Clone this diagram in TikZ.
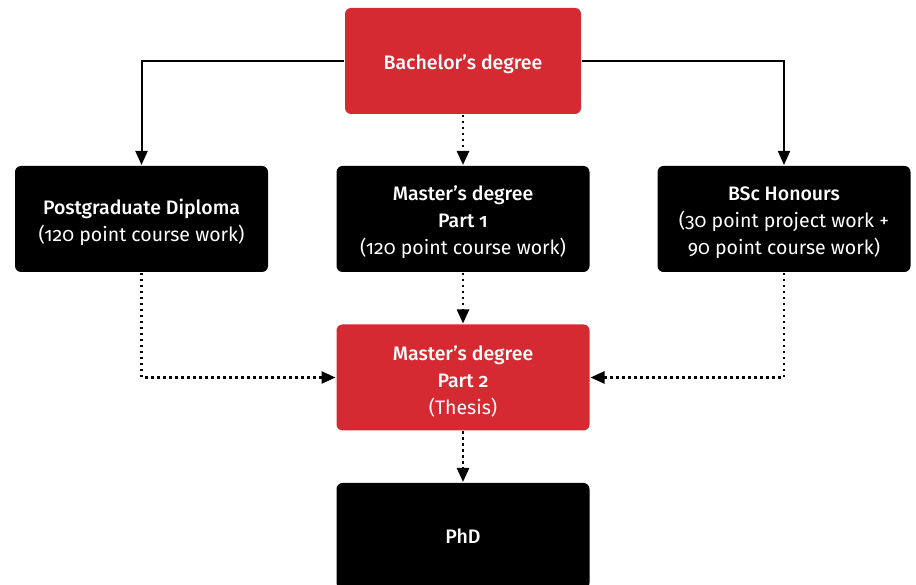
\documentclass[tikz,border=0pt]{standalone}
\usepackage{fontspec}
\setmainfont{Fira Sans}[Numbers=OldStyle, BoldFont={* Medium}]
\usepackage{tikz}
\usetikzlibrary{arrows.meta}

\definecolor{unired}{RGB}{214,42,50}
\newcommand{\topgap}{\rule{0pt}{22pt}}

\begin{document}
\begin{tikzpicture}[
        x = 1pt, y = 1pt,
        line width = 2pt % line style
    ]
    \tikzstyle{red box}=[
        draw = none,
        fill = unired,
        text = white,
        rounded corners = 6pt,
        align = center,
        font = \fontsize{19.5}{27}\selectfont,
        minimum height = 106pt
    ]

    \tikzstyle{black box}=[
        draw = none,
        fill = black,
        text = white,
        rounded corners = 6pt,
        align = center,
        font = \fontsize{19.5}{27}\selectfont,
        minimum width = 253pt,
        minimum height = 106pt
    ]

    \tikzstyle{solid arrow}=[-{Triangle[width=12pt,length=14pt]}]
    \tikzstyle{dot arrow}=[-{Triangle[width=12pt,length=14pt]},
        line width = 2.5pt, dash pattern = on 2.5pt off 3.5pt]

    \useasboundingbox (0, 0) rectangle (916, 585);

	\node[red box, minimum width = 236pt]   (bach) at (463, 524)   {\topgap\textbf{Bachelor’s degree}};
	\node[black box] (pgd)  at (141.5, 366) {\topgap\textbf{Postgraduate Diploma}\\(120 point course work)};
	\node[black box] (mp1)  at (463, 366)   {\topgap\textbf{Master’s degree}\\\textbf{Part 1}\\(120 point course work)};
	\node[black box] (bsc)  at (784, 366)   {\topgap\textbf{BSc Honours}\\(30 point project work +\\90 point course work)};
	\node[red box, minimum width = 253pt]   (mp2)  at (463, 207.5) {\topgap\textbf{Master’s degree}\\\textbf{Part 2}\\(Thesis)};
	\node[black box] (phd)  at (463, 49)    {\textbf{PhD}};

	\draw[solid arrow] (bach.west) -| (pgd.north);
	\draw[solid arrow] (bach.east) -| (bsc.north);
	\draw[dot arrow] (bach.south) -- (mp1.north);
	\draw[dot arrow] (mp1.south) -- (mp2.north);
	\draw[dot arrow] (pgd.south) |- (mp2.west);
	\draw[dot arrow] (bsc.south) |- (mp2.east);
	\draw[dot arrow] (mp2.south) -- (phd.north);

	\end{tikzpicture}
\end{document}
